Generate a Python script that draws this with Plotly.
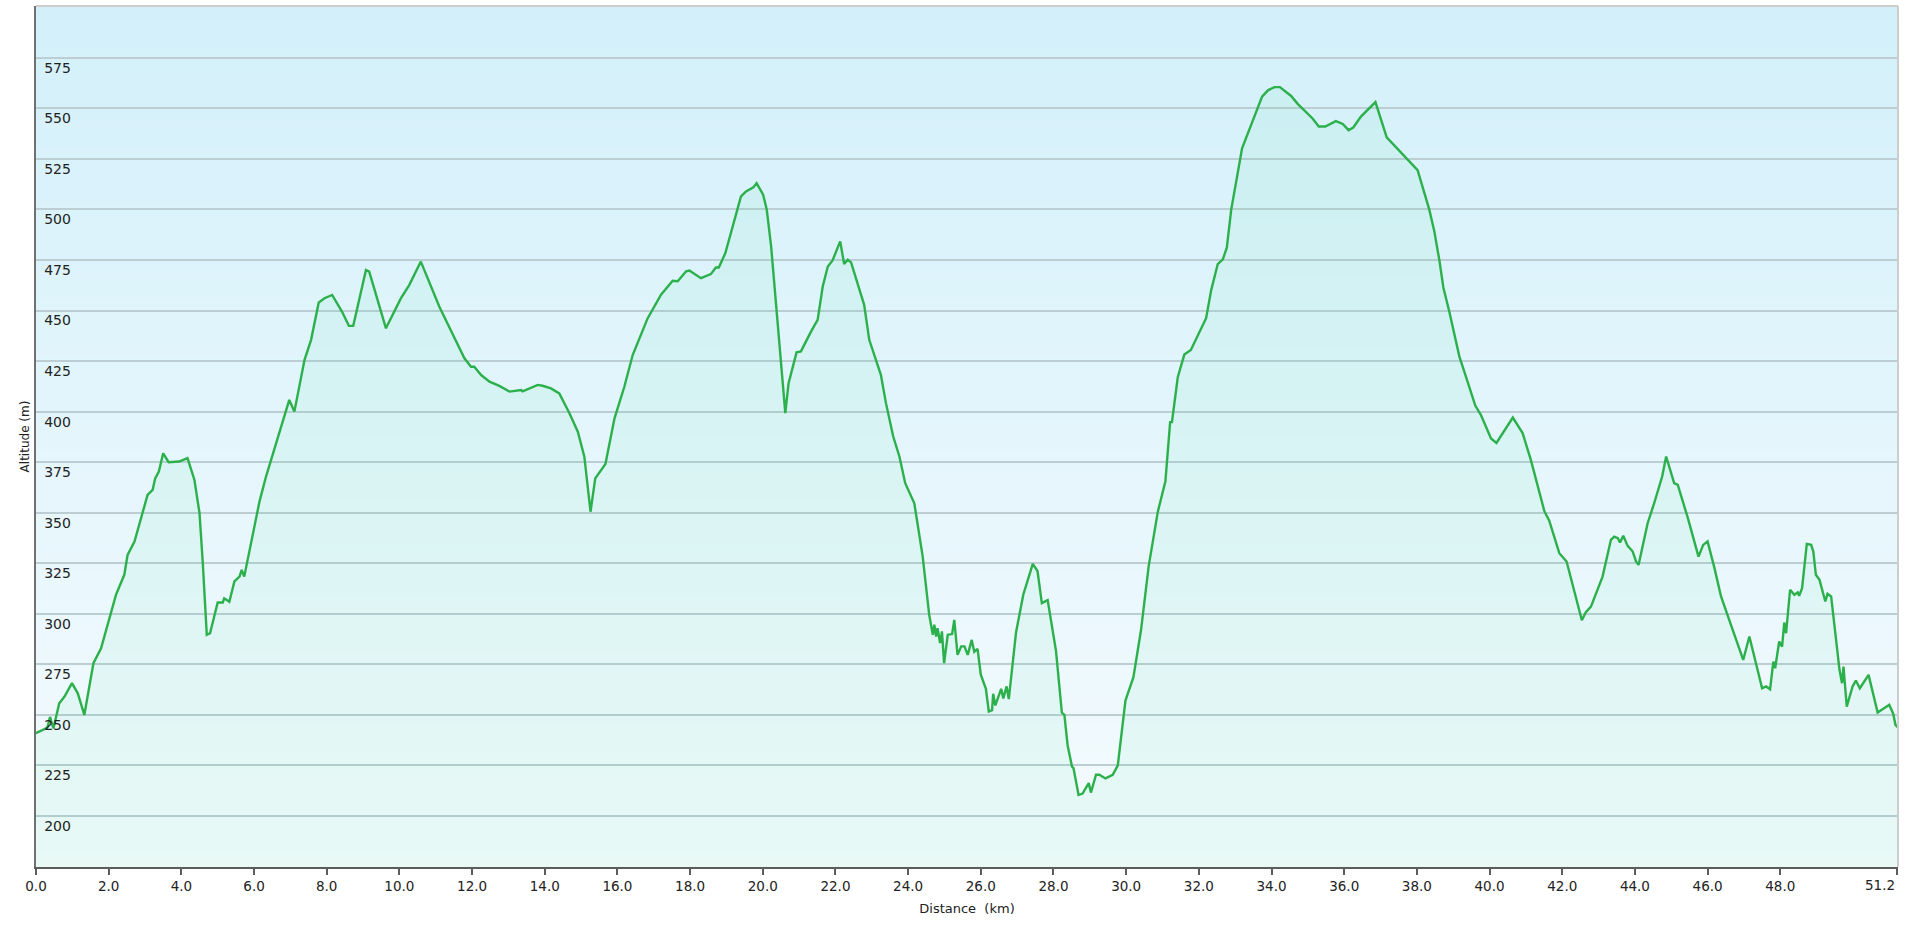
import plotly.graph_objects as go

# ---- data ----
distance_km = [
    0.00, 0.28, 0.32, 0.385, 0.48, 0.64, 0.78, 0.99, 1.15, 1.33, 1.58, 1.79, 2.20, 2.43, 2.52, 2.71,
    3.07, 3.21, 3.28, 3.38, 3.50, 3.65, 3.94, 4.17, 4.36, 4.50, 4.59, 4.70, 4.79, 4.95, 5.00, 5.14,
    5.18, 5.32, 5.46, 5.60, 5.66, 5.73, 6.15, 6.33, 6.97, 7.11, 7.39, 7.57, 7.78, 7.94, 8.15, 8.42,
    8.61, 8.73,
    9.08, 9.17, 9.63, 10.04, 10.27, 10.59, 11.10, 11.79, 11.97, 12.06, 12.25, 12.48, 12.75, 13.03,
    13.35, 13.39, 13.81, 13.94, 14.17, 14.40, 14.68, 14.91, 15.09, 15.26, 15.39, 15.67, 15.92, 16.19,
    16.42, 16.83,
    17.06, 17.20, 17.52, 17.66, 17.89, 17.98, 18.30, 18.57, 18.71, 18.79, 18.97, 19.40, 19.54, 19.74,
    19.83, 19.90, 20.01, 20.11, 20.23, 20.62, 20.71, 20.93, 21.05, 21.33, 21.51, 21.65, 21.79, 21.92,
    22.13, 22.24, 22.34, 22.43, 22.57, 22.79, 22.93, 23.25, 23.39, 23.59, 23.76, 23.92, 24.17, 24.26,
    24.40, 24.58, 24.68, 24.72, 24.77, 24.81, 24.88, 24.93, 24.99, 25.09, 25.21, 25.27, 25.36, 25.46,
    25.55, 25.64, 25.75, 25.82,
    25.91, 26.00, 26.14, 26.22, 26.31, 26.34, 26.40, 26.56, 26.62, 26.71, 26.77, 26.97, 27.17, 27.43,
    27.56, 27.68, 27.84, 28.07, 28.23, 28.30, 28.39, 28.51, 28.55, 28.69, 28.80, 28.97, 29.03, 29.17,
    29.26, 29.43, 29.63, 29.77, 29.98, 30.20, 30.41, 30.62, 30.87, 31.08, 31.21, 31.26, 31.42, 31.60,
    31.78, 32.20, 32.34, 32.52, 32.66, 32.77, 32.89, 33.19, 33.39, 33.74, 33.90, 34.08, 34.23, 34.40,
    34.54, 34.72, 35.13, 35.30, 35.48, 35.77, 35.96, 36.12, 36.25, 36.46, 36.86, 37.17, 37.79, 38.02,
    38.34, 38.48, 38.62, 38.73, 38.89, 39.17, 39.35, 39.61, 39.76, 40.04, 40.19, 40.45, 40.64, 40.91,
    41.14, 41.51, 41.64, 41.92, 42.12, 42.54, 42.65, 42.79,
    43.11, 43.34, 43.43, 43.53, 43.59, 43.68, 43.80, 43.94, 44.03, 44.10, 44.35, 44.53, 44.75, 44.86,
    45.08, 45.18, 45.45, 45.75, 45.88, 46.00, 46.19, 46.37, 46.60, 46.98, 47.15, 47.50, 47.61, 47.72,
    47.81, 47.86, 47.97, 48.05, 48.11, 48.16, 48.27, 48.39, 48.48, 48.52, 48.60, 48.73, 48.85, 48.91,
    48.98, 49.08, 49.24, 49.30, 49.40, 49.63, 49.70, 49.74, 49.83, 49.99, 50.08, 50.19, 50.43, 50.68,
    51.00, 51.11, 51.17, 51.23,
]

altitude_m = [
    241.0, 243.4, 244.2, 249.0, 243.4, 255.8, 259.0, 265.7, 260.7, 250.0, 275.6, 283.0, 309.4, 319.3, 329.1, 335.7,
    358.8, 361.3, 367.0, 370.4, 379.4, 375.0, 375.3, 377.0, 366.2, 349.8, 325.0, 289.6, 290.4, 301.0, 305.6, 305.6,
    307.7, 306.0, 316.0, 318.4, 321.7, 318.4, 355.5, 367.9, 405.8, 400.0, 425.6, 435.5, 454.0, 456.1, 457.7, 449.5,
    442.4, 442.4,
    470.0, 469.2, 441.2, 456.0, 462.6, 474.2, 451.9, 426.4, 422.2, 422.2, 418.1, 414.8, 412.7, 409.9,
    410.7, 410.0, 413.2, 412.8, 411.5, 409.0, 399.2, 390.1, 377.7, 350.5, 367.0, 374.1, 396.7, 412.3,
    428.0, 446.1,
    453.7, 457.8, 464.7, 464.5, 469.4, 469.8, 466.0, 468.0, 471.3, 471.3, 478.4, 506.4, 508.9, 510.9,
    513.0, 510.6, 507.3, 499.8, 481.7, 399.3, 414.1, 429.3, 429.8, 439.7, 445.4, 461.9, 471.8, 474.8,
    484.2, 473.0, 475.1, 473.8, 465.2, 452.8, 435.5, 418.2, 404.2, 387.7, 377.8, 364.6, 354.7, 344.8,
    328.4, 299.5, 289.6, 294.6, 288.8, 292.9, 285.5, 291.3, 275.6, 289.6, 290.0, 297.0, 279.7, 283.9,
    283.9, 279.7, 287.1, 281.3,
    282.7, 269.9, 262.9, 251.7, 252.4, 260.5, 254.7, 262.9, 258.2, 264.1, 257.8, 290.9, 309.6, 324.7,
    321.2, 305.3, 306.8, 281.6, 251.2, 250.0, 234.9, 224.4, 223.7, 210.4, 211.1, 216.3, 211.6, 220.4,
    220.4, 218.6, 220.4, 225.1, 257.1, 268.7, 292.1, 323.6, 350.4, 365.6, 394.8, 394.8, 417.0, 428.2,
    430.5, 446.2, 460.1, 473.0, 475.3, 481.1, 499.8, 530.2, 539.5, 555.8, 558.9, 560.5, 560.5, 558.2,
    556.1, 552.2, 545.0, 541.0, 541.0, 543.7, 542.3, 539.2, 540.5, 545.9, 553.1, 535.6, 523.4, 519.4,
    500.0, 489.2, 474.8, 461.3, 449.6, 427.2, 417.3, 402.9, 398.4, 386.7, 384.5, 391.7, 397.1, 389.4,
    375.9, 350.7, 346.2, 330.0, 325.9, 296.8, 300.8, 303.6,
    318.4, 336.6, 338.2, 337.4, 335.3, 338.6, 333.6, 330.8, 325.9, 324.2, 344.8, 354.7, 367.9, 377.8,
    364.6, 363.8, 347.8, 328.3, 334.1, 335.8, 322.6, 308.6, 297.0, 277.2, 288.8, 263.2, 264.1, 262.7,
    276.4, 273.1, 286.3, 283.8, 295.7, 290.4, 311.9, 309.4, 310.6, 308.9, 312.7, 334.6, 334.1, 330.8,
    319.3, 316.8, 306.1, 309.9, 308.6, 272.3, 265.7, 273.9, 254.1, 264.1, 267.0, 263.2, 269.8, 251.2,
    255.0, 250.5, 245.1, 243.9,
]

x_tick_values = [0, 2, 4, 6, 8, 10, 12, 14, 16, 18, 20, 22, 24, 26, 28, 30, 32, 34, 36, 38, 40, 42, 44, 46, 48, 51.2]
x_tick_labels = ["0.0", "2.0", "4.0", "6.0", "8.0", "10.0", "12.0", "14.0", "16.0", "18.0", "20.0", "22.0",
                 "24.0", "26.0", "28.0", "30.0", "32.0", "34.0", "36.0", "38.0", "40.0", "42.0", "44.0",
                 "46.0", "48.0", "51.2"]
y_tick_values = [200, 225, 250, 275, 300, 325, 350, 375, 400, 425, 450, 475, 500, 525, 550, 575]

# the last distance label is drawn right-aligned to its tick (so it stays inside the page)
x_tick_text = x_tick_labels[:-1] + [""]

TICK_FONT = dict(family="DejaVu Sans, Verdana, sans-serif", size=13.5, color="#222222")

# ---- figure ----
fig = go.Figure()
fig.add_trace(go.Scatter(
    x=distance_km, y=altitude_m, mode="lines",
    line=dict(color="#2bb04c", width=2.4),
    fill="tozeroy", fillcolor="rgba(40,215,120,0.06)",
    hoverinfo="x+y", showlegend=False, cliponaxis=True,
))

# vertical gradient background made of thin bands
shapes = []
n_bands = 120
top_rgb = (211, 240, 250)
bot_rgb = (245, 251, 254)
for i in range(n_bands):
    t = i / (n_bands - 1)
    c = tuple(round(top_rgb[k] + (bot_rgb[k] - top_rgb[k]) * t) for k in range(3))
    y1 = 1 - i / n_bands
    y0 = 1 - (i + 1) / n_bands
    shapes.append(dict(type="rect", xref="x domain", yref="y domain", x0=0, x1=1,
                       y0=y0 - 0.001, y1=y1 + 0.001, line=dict(width=0),
                       fillcolor="rgb(%d,%d,%d)" % c, layer="below"))
# light top / right border
shapes.append(dict(type="line", xref="x domain", yref="y domain", x0=0, x1=1, y0=1, y1=1,
                   line=dict(color="#cdcdcd", width=2), layer="above"))
shapes.append(dict(type="line", xref="x domain", yref="y domain", x0=1, x1=1, y0=0, y1=1,
                   line=dict(color="#cdcdcd", width=2), layer="above"))

fig.update_layout(
    width=1908, height=926,
    margin=dict(l=36, r=10, t=6, b=59, autoexpand=False),
    paper_bgcolor="white", plot_bgcolor="white",
    font=dict(family="DejaVu Sans, Verdana, sans-serif", size=13, color="#222222"),
    shapes=shapes,
    showlegend=False,
    annotations=[dict(
        x=x_tick_values[-1], xref="x", y=0, yref="paper",
        text=x_tick_labels[-1], showarrow=False,
        xanchor="right", yanchor="middle", xshift=0, yshift=-18,
        font=TICK_FONT,
    )],
)
fig.update_xaxes(
    range=[0, 51.24], tickvals=x_tick_values, ticktext=x_tick_text,
    automargin=False, ticklabeloverflow="allow",
    showgrid=False, zeroline=False,
    showline=True, linecolor="#5c5c5c", linewidth=2,
    ticks="outside", ticklen=6, tickwidth=1.5, tickcolor="#5c5c5c",
    tickfont=TICK_FONT,
    title=dict(text="Distance\u00a0 (km)", font=dict(size=13, color="#222222"), standoff=11),
)
fig.update_yaxes(
    range=[174.8, 600.6], tickvals=y_tick_values,
    automargin=False, ticklabeloverflow="allow",
    showgrid=True, gridcolor="#bccdd3", gridwidth=1.6,
    zeroline=False,
    showline=True, linecolor="#707070", linewidth=2,
    ticks="", ticklabelposition="inside", ticklabelshift=10, ticklabelstandoff=8,
    tickfont=dict(size=14, color="#222222"),
    title=dict(text="Altitude (m)", font=dict(size=12, color="#222222"), standoff=12),
)

fig.write_html(
    "out.html",
    config={"displayModeBar": False},
    post_script="document.body.style.margin='0';document.body.style.overflow='hidden';",
)
